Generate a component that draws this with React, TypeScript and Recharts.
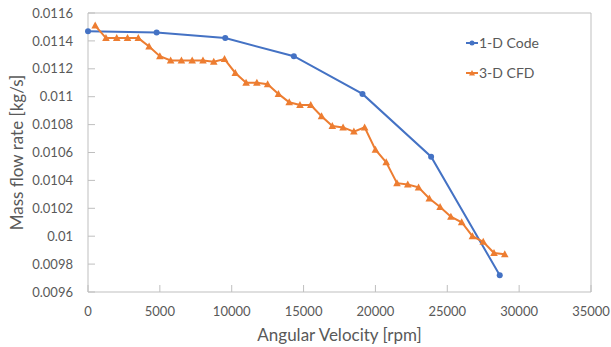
import { LineChart, Line, XAxis, YAxis, Legend, ReferenceLine, Label } from 'recharts'

// 1-D code results
const codeRpm = [0, 4775, 9550, 14325, 19100, 23875, 28650]
const codeFlow = [0.01147, 0.01146, 0.01142, 0.01129, 0.01102, 0.01057, 0.00972]

// 3-D CFD results
const cfdRpm = [
  500, 1250, 2000, 2750, 3500, 4250, 5000, 5750, 6500, 7250, 8000, 8750, 9500,
  10250, 11000, 11750, 12500, 13250, 14000, 14750, 15500, 16250, 17000, 17750,
  18500, 19250, 20000, 20750, 21500, 22250, 23000, 23750, 24500, 25250, 26000,
  26750, 27500, 28250, 29000,
]
const cfdFlow = [
  0.01151, 0.01142, 0.01142, 0.01142, 0.01142, 0.01136, 0.01129, 0.01126, 0.01126,
  0.01126, 0.01126, 0.01125, 0.01127, 0.01117, 0.0111, 0.0111, 0.01109, 0.01102,
  0.01096, 0.01094, 0.01094, 0.01086, 0.01079, 0.01078, 0.01075, 0.01078, 0.01062,
  0.01053, 0.01038, 0.01037, 0.01035, 0.01027, 0.01021, 0.01014, 0.0101, 0.01,
  0.00996, 0.00988, 0.00987,
]

const xTicks = [0, 5000, 10000, 15000, 20000, 25000, 30000, 35000]
const yTicks = [0.0096, 0.0098, 0.01, 0.0102, 0.0104, 0.0106, 0.0108, 0.011, 0.0112, 0.0114, 0.0116]

const BLUE = '#4472C4'
const ORANGE = '#ED7D31'
const AXIS = '#BFBFBF'
const TEXT = '#595959'
const FONT = 'Lato, "Open Sans", sans-serif'

const codeData = codeRpm.map((rpm, i) => ({ rpm, flow: codeFlow[i] }))
const cfdData = cfdRpm.map((rpm, i) => ({ rpm, flow: cfdFlow[i] }))

const Triangle = (props: any) => {
  const { cx, cy } = props
  if (cx == null || cy == null) return null
  return <polygon points={`${cx},${cy - 4} ${cx + 3.8},${cy + 3} ${cx - 3.8},${cy + 3}`} fill={ORANGE} />
}

const LegendBox = () => (
  <div style={{ fontFamily: FONT, fontSize: 14, color: TEXT, lineHeight: '30px' }}>
    {[
      { name: '1-D Code', color: BLUE, tri: false },
      { name: '3-D CFD', color: ORANGE, tri: true },
    ].map((item) => (
      <div key={item.name} style={{ display: 'flex', alignItems: 'center' }}>
        <svg width={12} height={8} style={{ marginRight: 1 }}>
          <line x1={0} y1={4} x2={12} y2={4} stroke={item.color} strokeWidth={2} />
          {item.tri ? (
            <polygon points="6,1 9,6.5 3,6.5" fill={item.color} />
          ) : (
            <circle cx={6} cy={4} r={2.5} fill={item.color} />
          )}
        </svg>
        <span>{item.name}</span>
      </div>
    ))}
  </div>
)

export default function App() {
  const fmt = (v: number) => String(parseFloat(v.toFixed(4)))
  return (
    <div style={{ position: 'absolute', left: 0, top: 0, width: 611, height: 347, background: '#fff' }}>
      <LineChart width={611} height={347} margin={{ top: 13, right: 20, bottom: 0, left: 0 }}>
        <XAxis
          type="number"
          dataKey="rpm"
          domain={[0, 35000]}
          ticks={xTicks}
          interval={0}
          height={55}
          stroke={AXIS}
          tickSize={-7}
          tickMargin={22}
          tick={{ fill: TEXT, fontSize: 13, fontFamily: FONT }}
        >
          <Label
            value="Angular Velocity [rpm]"
            position="insideBottom"
            offset={6}
            style={{ fill: TEXT, fontSize: 17, fontFamily: FONT }}
          />
        </XAxis>
        <YAxis
          type="number"
          domain={[0.0096, 0.0116]}
          ticks={yTicks}
          interval={0}
          width={88}
          stroke={AXIS}
          tickSize={-7}
          tickMargin={22}
          tickFormatter={fmt}
          tick={{ fill: TEXT, fontSize: 13, fontFamily: FONT }}
        >
          <Label
            value="Mass flow rate [kg/s]"
            angle={-90}
            position="insideLeft"
            offset={17}
            style={{ fill: TEXT, fontSize: 17, fontFamily: FONT, textAnchor: 'middle' }}
          />
        </YAxis>
        <ReferenceLine y={0.0116} stroke={AXIS} />
        <ReferenceLine x={35000} stroke={AXIS} />
        <Legend
          layout="vertical"
          align="center"
          verticalAlign="middle"
          content={<LegendBox />}
          wrapperStyle={{ left: 466, top: 28, width: 120 }}
        />
        <Line
          data={codeData}
          dataKey="flow"
          name="1-D Code"
          type="linear"
          stroke={BLUE}
          strokeWidth={2}
          dot={{ r: 3, fill: BLUE, stroke: BLUE, strokeWidth: 0 }}
          activeDot={false}
          isAnimationActive={false}
        />
        <Line
          data={cfdData}
          dataKey="flow"
          name="3-D CFD"
          type="linear"
          stroke={ORANGE}
          strokeWidth={2}
          dot={<Triangle />}
          activeDot={false}
          isAnimationActive={false}
        />
      </LineChart>
    </div>
  )
}
